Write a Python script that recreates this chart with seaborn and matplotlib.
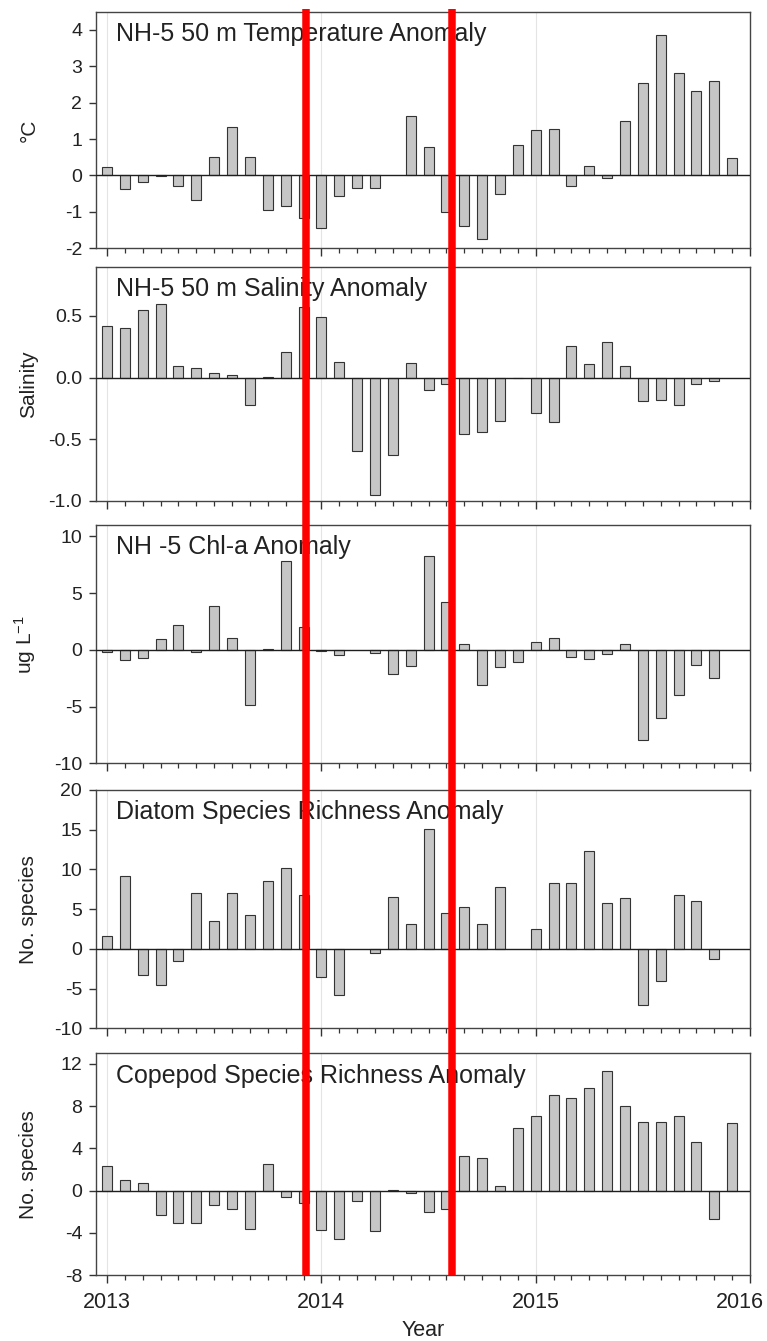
import numpy as np
import pandas as pd
import matplotlib
matplotlib.use("Agg")
import matplotlib.pyplot as plt
import seaborn as sns
from matplotlib.ticker import FormatStrFormatter, FixedLocator
from matplotlib.lines import Line2D
from matplotlib.transforms import blended_transform_factory, ScaledTranslation

nan = np.nan

# Monthly samples, January 2013 - December 2015 (decimal years)
month_start = pd.date_range("2013-01-01", periods=36, freq="MS")
decimal_year = np.asarray(month_start.year + (month_start.month - 1) / 12.0, dtype=float)

# NH-5 anomalies
temperature = [0.22, -0.37, -0.17, -0.03, -0.28, -0.68, 0.50, 1.33, 0.50, -0.96, -0.85, -1.17,
               -1.45, -0.56, -0.36, -0.36, nan, 1.64, 0.77, -1.02, -1.38, -1.74, -0.50, 0.83,
               1.25, 1.28, -0.30, 0.25, -0.07, 1.49, 2.53, 3.86, 2.81, 2.33, 2.61, 0.49]

salinity = [0.42, 0.40, 0.55, 0.60, 0.09, 0.08, 0.04, 0.02, -0.22, 0.005, 0.21, 0.57,
            0.49, 0.13, -0.60, -0.95, -0.63, 0.12, -0.10, -0.05, -0.46, -0.44, -0.35, -0.005,
            -0.29, -0.36, 0.26, 0.11, 0.29, 0.09, -0.19, -0.18, -0.22, -0.05, -0.03, nan]

chlorophyll = [-0.2, -0.9, -0.7, 0.97, 2.15, -0.2, 3.85, 1.06, -4.82, 0.03, 7.85, 1.97,
               -0.1, -0.45, nan, -0.25, -2.15, -1.45, 8.3, 4.2, 0.5, -3.06, -1.5, -1.03,
               0.7, 1.06, -0.6, -0.77, -0.41, 0.5, -7.94, -6.03, -3.97, -1.3, -2.44, nan]

diatom_richness = [1.6, 9.2, -3.25, -4.5, -1.55, 7.0, 3.55, 7.0, 4.3, 8.55, 10.2, 6.8,
                   -3.55, -5.8, nan, -0.5, 6.55, 3.1, 15.1, 4.55, 5.3, 3.1, 7.8, nan,
                   2.5, 8.25, 8.25, 12.3, 5.8, 6.35, -7.1, -4.05, 6.75, 6.05, -1.3, nan]

copepod_richness = [2.34, 0.98, 0.76, -2.31, -3.04, -3.1, -1.33, -1.74, -3.64, 2.5, -0.63, -1.2,
                    -3.73, -4.59, -0.95, -3.83, 0.05, -0.25, -1.99, -1.77, 3.29, 3.07, 0.44, 5.95,
                    7.06, 9.02, 8.77, 9.75, 11.33, 8.0, 6.49, 6.49, 7.06, 4.59, -2.69, 6.39]

titles = ["NH-5 50 m Temperature Anomaly", "NH-5 50 m Salinity Anomaly",
          "NH -5 Chl-a Anomaly", "Diatom Species Richness Anomaly",
          "Copepod Species Richness Anomaly"]
ylabels = ["°C", "Salinity", "ug L$^{-1}$", "No. species", "No. species"]
series = [temperature, salinity, chlorophyll, diatom_richness, copepod_richness]
ylims = [(-2, 4.5), (-1.0, 0.9), (-10, 11), (-10, 20), (-8, 13)]
yticks = [[-2, -1, 0, 1, 2, 3, 4], [-1.0, -0.5, 0.0, 0.5], [-10, -5, 0, 5, 10],
          [-10, -5, 0, 5, 10, 15, 20], [-8, -4, 0, 4, 8, 12]]
yfmts = ["%d", "%.1f", "%d", "%d", "%d"]
year_ticks = [2013, 2014, 2015, 2016]
event_dates = [2013.93, 2014.61]

sns.set_style("ticks")
plt.rcParams["font.family"] = ["Liberation Sans", "DejaVu Sans"]
plt.rcParams["axes.unicode_minus"] = False
plt.rcParams["mathtext.default"] = "regular"

fig = plt.figure(figsize=(7.67, 13.41), dpi=100)

# axes rectangles (left, bottom, width, height) in figure fraction
left, width = 0.1252, 0.8527
rects = [(left, 0.8150, width, 0.1762),
         (left, 0.6266, width, 0.1745),
         (left, 0.4308, width, 0.1777),
         (left, 0.2332, width, 0.1777),
         (left, 0.0492, width, 0.1653)]

axes = []
for i, (title, ylab, vals, ylim, yt, fmt) in enumerate(
        zip(titles, ylabels, series, ylims, yticks, yfmts)):
    ax = fig.add_axes(rects[i])
    axes.append(ax)
    df = pd.DataFrame({"year": decimal_year, "value": vals}).dropna()

    for yr in year_ticks[:-1]:
        ax.axvline(yr, color="#e4e4e4", lw=0.8, zorder=0)

    sns.barplot(data=df, x="year", y="value", native_scale=True, orient="x",
                width=0.56, color="#c6c6c6", edgecolor="#333333", linewidth=0.8,
                saturation=1, errorbar=None, ax=ax, zorder=2)
    ax.axhline(0, color="#1e1e1e", lw=1.0, zorder=3)

    ax.set_xlim(2013 - 11 / 214.3, 2016.0)
    ax.set_ylim(*ylim)
    ax.yaxis.set_major_locator(FixedLocator(yt))
    ax.yaxis.set_major_formatter(FormatStrFormatter(fmt))
    ax.xaxis.set_major_locator(FixedLocator(year_ticks))
    ax.xaxis.set_minor_locator(FixedLocator(list(decimal_year)))
    ax.xaxis.set_major_formatter(FormatStrFormatter("%d"))

    ax.tick_params(axis="y", direction="out", length=5, width=1.0, labelsize=14,
                   pad=5, color="#333333", labelcolor="#222222", left=True)
    ax.tick_params(axis="x", which="major", direction="out", length=6, width=1.0,
                   labelsize=15.5, pad=6, color="#333333", labelcolor="#222222",
                   bottom=True, labelbottom=(i == len(series) - 1))
    ax.tick_params(axis="x", which="minor", direction="out", length=3.5, width=0.9,
                   color="#333333", bottom=True)

    for sp in ax.spines.values():
        sp.set_visible(True)
        sp.set_color("#444444")
        sp.set_linewidth(1.0)

    ax.set_xlabel("")
    ax.set_ylabel(ylab, fontsize=15, color="#222222")
    ax.yaxis.set_label_coords(-0.088, 0.5)

    ax.annotate(title, xy=(0, 1), xycoords="axes fraction", xytext=(14.4, -21),
                textcoords="offset points", fontsize=18, ha="left", va="baseline",
                color="#222222")

bottom_ax = axes[-1]
bottom_ax.set_xlabel("Year", fontsize=15.5, labelpad=5, color="#222222")

# nudge the right-most year label inward so it stays inside the figure
last_tick = bottom_ax.xaxis.get_major_ticks()[-1]
last_tick.label1.set_transform(last_tick.label1.get_transform()
                               + ScaledTranslation(-10 / 100, 0, fig.dpi_scale_trans))

# vertical event markers spanning all panels
trans = blended_transform_factory(bottom_ax.transData, fig.transFigure)
y_bottom = rects[-1][1]
y_top = 0.9933
for d in event_dates:
    fig.add_artist(Line2D([d, d], [y_bottom, y_top], transform=trans,
                          color="#ff0000", lw=5.4, solid_capstyle="butt", zorder=20))

fig.savefig("out.png", dpi=100)
